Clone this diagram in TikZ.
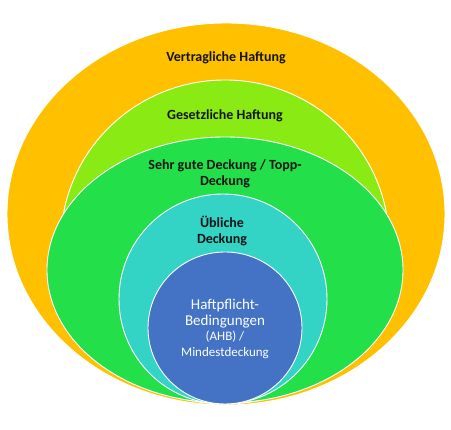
\documentclass[tikz,border=0pt]{standalone}
\usepackage{fontspec}
\setmainfont{Carlito}
\usetikzlibrary{shapes.geometric}
\definecolor{cOrange}{HTML}{FFC000}
\definecolor{cLime}{HTML}{8AEB14}
\definecolor{cGreen}{HTML}{23E04A}
\definecolor{cCyan}{HTML}{33D3C5}
\definecolor{cBlue}{HTML}{4472C4}
\definecolor{cText}{HTML}{141414}
\tikzset{
  ring/.style={ellipse, draw=white, line width=0.9pt, inner sep=0pt},
  lbl/.style={align=center, text=cText, font=\fontsize{14}{16}\selectfont\bfseries, inner sep=0pt},
  wlbl/.style={align=center, text=white, font=\fontsize{15}{15.5}\selectfont, inner sep=0pt}
}
\begin{document}
\begin{tikzpicture}[x=1pt,y=1pt]
\useasboundingbox (0,0) rectangle (451,430);
\node[ring, fill=cOrange, minimum width=438pt, minimum height=382pt] (outer) at (226,216) {};
\node[ring, fill=cLime, minimum width=328pt, minimum height=324pt] (lime) at (225,188) {};
\node[ring, fill=cGreen, minimum width=356pt, minimum height=266pt] (green) at (225,160) {};
\node[ring, fill=cCyan, minimum width=208pt, minimum height=210pt] (cyan) at (223,131) {};
\node[ring, fill=cBlue, minimum width=154pt, minimum height=152pt] (blue) at (225,102) {};
\node[lbl] (t1) at (226,372) {Vertragliche Haftung};
\node[lbl] (t2) at (225,314) {Gesetzliche Haftung};
\node[lbl] (t3) at (225,256) {Sehr gute Deckung / Topp-\\Deckung};
\node[lbl] (t4) at (222,199) {Übliche\\Deckung};
\node[wlbl] (t5) at (225,101) {Haftpflicht-\\Bedingungen\\{\fontsize{13}{15.5}\selectfont (AHB) /}\\{\fontsize{13}{15.5}\selectfont Mindestdeckung}};
\end{tikzpicture}
\end{document}
